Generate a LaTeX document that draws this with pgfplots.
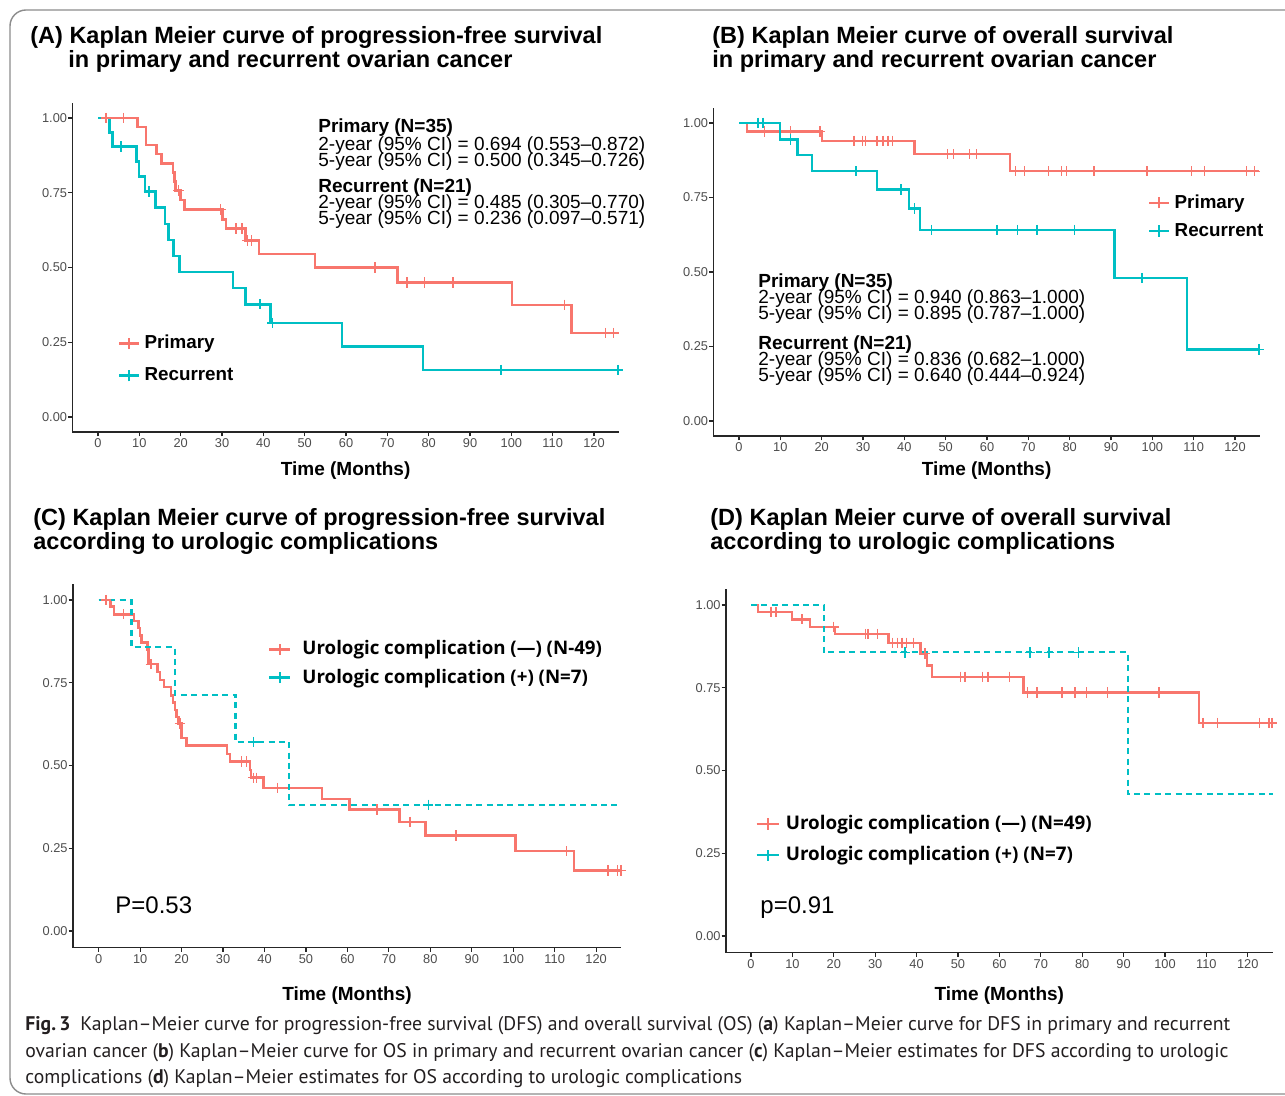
\documentclass[border=0pt]{standalone}
\usepackage{fontspec}
\setmainfont{Liberation Sans}
\newfontfamily\osans{Open Sans}
\newfontfamily\ptsans{PT Sans}
\usepackage{pgfplots}
\pgfplotsset{compat=1.18}
\definecolor{kmred}{HTML}{F8766D}
\definecolor{kmcyan}{HTML}{00BFC4}
\definecolor{tickgray}{HTML}{4D4D4D}
\definecolor{capcol}{HTML}{231F20}

\pgfplotsset{
  km/.style={
    scale only axis, clip=false,
    xmin=-6.2, xmax=126, ymin=-0.05, ymax=1.05,
    axis lines=left,
    axis line style={-, line width=0.8pt, black!85},
    xtick={0,10,...,120},
    ytick={0,0.25,0.5,0.75,1},
    yticklabels={0.00,0.25,0.50,0.75,1.00},
    tick align=outside, major tick length=2.2pt,
    tick style={line width=0.6pt, black!85},
    tick label style={font=\fontsize{6.4}{7}\selectfont, text=tickgray},
    yticklabel style={inner sep=0.3pt},
    xticklabel style={inner sep=1pt},
    /pgf/number format/assume math mode=true,
    xlabel={Time (Months)},
    xlabel style={font=\bfseries\fontsize{9.5}{10}\selectfont, at={(axis description cs:0.5,0)}, anchor=center},
    legend cell align=left,
    legend image code/.code={\draw[##1, solid] (0pt,0pt) -- (10pt,0pt); \draw[##1, solid, line width=1pt] (5pt,-2.8pt) -- (5pt,2.8pt);},
  },
  widegap/.style={legend image code/.code={\draw[##1, solid] (0pt,0pt) -- (10.5pt,0pt); \draw[##1, solid, line width=1pt] (5.2pt,-2.8pt) -- (5.2pt,2.8pt); \path (14pt,0pt);}},
  midgap/.style={legend image code/.code={\draw[##1, solid] (0pt,0pt) -- (11pt,0pt); \draw[##1, solid, line width=1pt] (5.5pt,-2.8pt) -- (5.5pt,2.8pt); \path (12pt,0pt);}},
  redline/.style={kmred, line width=1.25pt, const plot},
  cyanline/.style={kmcyan, line width=1.25pt, const plot},
  cyandash/.style={kmcyan, line width=1.1pt, const plot, dash pattern=on 3pt off 2.2pt},
  redcens/.style={only marks, mark=+, mark size=2.6pt, kmred, mark options={line width=0.7pt}},
  cyancens/.style={only marks, mark=+, mark size=2.6pt, kmcyan, mark options={line width=0.7pt}},
}

\begin{document}
\begin{tikzpicture}
\begin{scope}[x=0.5pt,y=-0.5pt]
\useasboundingbox (0,0) rectangle (1285,1096);
\fill[white] (0,0) rectangle (1285,1096);
\draw[black!45, line width=0.7pt, rounded corners=8pt] (10,10) rectangle (1320,1094);
\end{scope}

% ---------------- Panel A ----------------
\begin{axis}[km, at={(36.2pt,-216pt)}, anchor=south west, width=273.2pt, height=164.5pt,
  xlabel style={yshift=-19.25pt},
  legend style={draw=none, fill=none, at={(0.072,0.32)}, anchor=north west,
    font=\bfseries\fontsize{9.4}{10}\selectfont, row sep=4pt}]
\addlegendimage{kmred, line width=1.25pt}
\addlegendentry{Primary}
\addlegendimage{kmcyan, line width=1.25pt}
\addlegendentry{Recurrent}
\addplot[redline, forget plot] coordinates {(0,1)(9.5,0.970)(11.6,0.909)(14.2,0.879)(15.3,0.848)(18.1,0.818)(18.5,0.788)(18.8,0.757)(19.9,0.726)(20.9,0.694)(30.1,0.660)(31.0,0.630)(35.7,0.590)(38.9,0.545)(52.5,0.500)(72.5,0.450)(100.1,0.375)(114.5,0.281)(125.8,0.281)};
\addplot[redcens, forget plot] coordinates {(1.9,1)(6.2,1)(19.5,0.757)(29.7,0.694)(33.4,0.630)(34.8,0.630)(36.1,0.590)(37.1,0.590)(67.0,0.5)(74.8,0.45)(79.0,0.45)(85.9,0.45)(112.8,0.375)(122.8,0.281)(124.7,0.281)};
\addplot[cyanline, forget plot] coordinates {(0,1)(2.8,0.952)(3.5,0.905)(9.3,0.855)(9.9,0.804)(11.4,0.754)(13.9,0.700)(16.2,0.646)(17.0,0.592)(18.3,0.538)(19.7,0.485)(32.7,0.431)(35.7,0.377)(41.7,0.314)(59.0,0.236)(78.6,0.157)(125.8,0.157)};
\addplot[cyancens, forget plot] coordinates {(5.6,0.905)(12.3,0.754)(39.2,0.377)(42.2,0.314)(97.5,0.157)(125.8,0.157)};
\end{axis}

% ---------------- Panel B ----------------
\begin{axis}[km, at={(356.7pt,-218pt)}, anchor=south west, width=273.2pt, height=164pt,
  xlabel style={yshift=-17.25pt},
  legend style={draw=none, fill=none, at={(0.784,0.762)}, anchor=north west,
    font=\bfseries\fontsize{9.4}{10}\selectfont, row sep=2pt}]
\addlegendimage{kmred, line width=1.25pt}
\addlegendentry{Primary}
\addlegendimage{kmcyan, line width=1.25pt}
\addlegendentry{Recurrent}
\addplot[redline, forget plot] coordinates {(0,1)(1.9,0.971)(20.1,0.940)(42.4,0.895)(65.6,0.838)(125.8,0.838)};
\addplot[redcens, forget plot] coordinates {(6.2,0.971)(12.5,0.971)(19.6,0.971)(27.8,0.94)(29.9,0.94)(30.6,0.94)(33.4,0.94)(34.8,0.94)(36.0,0.94)(37.1,0.94)(50.5,0.895)(51.9,0.895)(55.8,0.895)(57.5,0.895)(66.9,0.838)(69.0,0.838)(74.9,0.838)(78.0,0.838)(79.2,0.838)(85.9,0.838)(98.7,0.838)(109.4,0.838)(112.6,0.838)(122.8,0.838)(124.7,0.838)};
\addplot[cyanline, forget plot] coordinates {(0,1)(9.9,0.945)(14.1,0.892)(17.6,0.838)(33.4,0.777)(41.1,0.713)(43.8,0.641)(90.8,0.480)(108.4,0.240)(125.8,0.240)};
\addplot[cyancens, forget plot] coordinates {(4.6,1)(5.8,1)(12.5,0.945)(28.3,0.838)(39.2,0.777)(42.4,0.713)(46.5,0.641)(62.4,0.641)(67.4,0.641)(72.1,0.641)(81.1,0.641)(97.5,0.480)(125.8,0.240)};
\end{axis}

% ---------------- Panel C ----------------
\begin{axis}[km, widegap, at={(36.5pt,-473.75pt)}, anchor=south west, width=274pt, height=182pt,
  xlabel style={yshift=-24pt},
  legend style={draw=none, fill=none, at={(0.344,0.866)}, anchor=north west,
    font=\osans\bfseries\fontsize{9.35}{10}\selectfont, row sep=1.5pt}]
\addlegendimage{kmred, line width=1.25pt}
\addlegendentry{Urologic complication (—) (N-49)}
\addlegendimage{kmcyan, line width=1.25pt}
\addlegendentry{Urologic complication (+) (N=7)}
\addplot[redline, forget plot] coordinates {(0,1)(2.9,0.980)(3.7,0.957)(8.5,0.936)(9.6,0.915)(10.0,0.893)(10.3,0.871)(11.8,0.850)(12.0,0.806)(14.2,0.783)(14.8,0.759)(15.7,0.737)(17.4,0.712)(17.9,0.690)(18.4,0.667)(18.8,0.647)(19.2,0.627)(20.0,0.583)(21.2,0.560)(30.9,0.535)(31.7,0.512)(36.5,0.487)(36.7,0.463)(39.8,0.432)(53.9,0.399)(60.5,0.367)(72.6,0.329)(78.8,0.289)(100.6,0.241)(114.6,0.183)(126,0.183)};
\addplot[redcens, forget plot] coordinates {(1.8,1)(6.0,0.957)(12.6,0.806)(19.6,0.627)(34.4,0.512)(35.6,0.512)(37.3,0.463)(38.1,0.463)(43.2,0.432)(67.1,0.367)(75.1,0.329)(86.2,0.289)(112.8,0.241)(122.9,0.183)(125.1,0.183)(126,0.183)};
\addplot[cyandash, forget plot] coordinates {(0,1)(7.9,0.857)(18.4,0.714)(33.0,0.571)(46.0,0.381)(126,0.381)};
\addplot[cyancens, forget plot] coordinates {(37.4,0.571)(79.5,0.381)};
\end{axis}

% ---------------- Panel D ----------------
\begin{axis}[km, midgap, at={(363pt,-476.25pt)}, anchor=south west, width=273.3pt, height=182pt, xmin=-6.04,
  xlabel style={yshift=-21.5pt},
  legend style={draw=none, fill=none, at={(0.042,0.40)}, anchor=north west,
    font=\osans\bfseries\fontsize{9.4}{10}\selectfont, row sep=3pt}]
\addlegendimage{kmred, line width=1.25pt}
\addlegendentry{Urologic complication (—) (N=49)}
\addlegendimage{kmcyan, line width=1.25pt}
\addlegendentry{Urologic complication (+) (N=7)}
\addplot[redline, forget plot] coordinates {(0,1)(1.7,0.979)(9.9,0.957)(14.3,0.934)(20.3,0.912)(33.2,0.886)(40.9,0.853)(42.5,0.818)(43.7,0.783)(65.8,0.736)(108.2,0.643)(126,0.643)};
\addplot[redcens, forget plot] coordinates {(4.8,0.979)(6.0,0.979)(12.3,0.957)(19.9,0.934)(27.7,0.912)(28.3,0.912)(30.5,0.912)(34.2,0.886)(35.4,0.886)(36.5,0.886)(37.6,0.886)(39.2,0.886)(42.0,0.853)(50.6,0.783)(51.7,0.783)(55.9,0.783)(57.2,0.783)(62.5,0.783)(66.8,0.736)(69.1,0.736)(75.1,0.736)(78.3,0.736)(81.0,0.736)(86.1,0.736)(98.6,0.736)(109.2,0.643)(112.7,0.643)(122.8,0.643)(125.1,0.643)(125.9,0.643)};
\addplot[cyandash, forget plot] coordinates {(0,1)(17.6,0.857)(91.0,0.429)(126,0.429)};
\addplot[cyancens, forget plot] coordinates {(37.2,0.857)(67.4,0.857)(72.0,0.857)(79.1,0.857)};
\end{axis}

% ---------------- Text ----------------
\begin{scope}[x=0.5pt,y=-0.5pt]
\tikzset{ttl/.style={anchor=base west, inner sep=0pt, font=\bfseries\fontsize{11.75}{13}\selectfont},
         ann/.style={anchor=base west, inner sep=0pt, font=\fontsize{9.5}{10}\selectfont},
         annb/.style={anchor=base west, inner sep=0pt, font=\bfseries\fontsize{9.5}{10}\selectfont},
         captxt/.style={anchor=base west, inner sep=0pt, text=capcol, font=\ptsans\fontsize{9.85}{11}\selectfont}}
\node[ttl] at (30,44) {(A) Kaplan Meier curve of progression-free survival};
\node[ttl] at (68,68) {in primary and recurrent ovarian cancer};
\node[ttl] at (712,44) {(B) Kaplan Meier curve of overall survival};
\node[ttl] at (712,68) {in primary and recurrent ovarian cancer};
\node[ttl] at (33,525) {(C) Kaplan Meier curve of progression-free survival};
\node[ttl] at (33,549) {according to urologic complications};
\node[ttl] at (710,525) {(D) Kaplan Meier curve of overall survival};
\node[ttl] at (710,549) {according to urologic complications};

\node[annb] at (318,133) {Primary (N=35)};
\node[ann] at (318,151) {2-year (95\% CI) = 0.694 (0.553–0.872)};
\node[ann] at (318,167) {5-year (95\% CI) = 0.500 (0.345–0.726)};
\node[annb] at (318,193) {Recurrent (N=21)};
\node[ann] at (318,209) {2-year (95\% CI) = 0.485 (0.305–0.770)};
\node[ann] at (318,225) {5-year (95\% CI) = 0.236 (0.097–0.571)};

\node[annb] at (758,288) {Primary (N=35)};
\node[ann] at (758,304) {2-year (95\% CI) = 0.940 (0.863–1.000)};
\node[ann] at (758,320) {5-year (95\% CI) = 0.895 (0.787–1.000)};
\node[annb] at (758,350) {Recurrent (N=21)};
\node[ann] at (758,366) {2-year (95\% CI) = 0.836 (0.682–1.000)};
\node[ann] at (758,382) {5-year (95\% CI) = 0.640 (0.444–0.924)};

\node[anchor=base west, inner sep=0pt, font=\fontsize{12}{13}\selectfont] at (115,913) {P=0.53};
\node[anchor=base west, inner sep=0pt, font=\fontsize{12}{13}\selectfont] at (760,913) {p=0.91};

\node[captxt] at (25,1030) {\textbf{Fig.\,3}\enspace Kaplan–Meier curve for progression-free survival (DFS) and overall survival (OS) (\textbf{a}) Kaplan–Meier curve for DFS in primary and recurrent};
\node[captxt] at (25,1057) {ovarian cancer (\textbf{b}) Kaplan–Meier curve for OS in primary and recurrent ovarian cancer (\textbf{c}) Kaplan–Meier estimates for DFS according to urologic};
\node[captxt] at (25,1083) {complications (\textbf{d}) Kaplan–Meier estimates for OS according to urologic complications};
\end{scope}
\end{tikzpicture}
\end{document}
